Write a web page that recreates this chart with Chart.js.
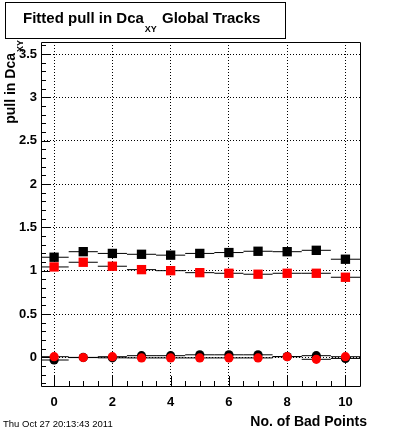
<!DOCTYPE html>
<html><head><meta charset="utf-8">
<script src="https://cdn.jsdelivr.net/npm/chart.js@4/dist/chart.umd.min.js"></script>
<style>html,body{margin:0;padding:0;background:#fff;}canvas{display:block;}</style>
</head><body>
<canvas id="c" width="400" height="433"></canvas>
<script>
// ---- data ----
const binCenters   = [0, 1, 2, 3, 4, 5, 6, 7, 8, 9, 10];
const blackSquares = [1.156, 1.22, 1.20, 1.19, 1.18, 1.20, 1.21, 1.225, 1.22, 1.236, 1.133];
const redSquares   = [1.044, 1.098, 1.052, 1.013, 1.001, 0.978, 0.971, 0.96, 0.971, 0.971, 0.925];
const blackCircles = [-0.03, 0.0, -0.005, 0.02, 0.02, 0.03, 0.03, 0.03, 0.01, 0.02, -0.012];
const redCircles   = [0.008, -0.002, 0.008, -0.006, -0.006, -0.006, -0.006, -0.006, 0.008, -0.022, 0.008];
const binWidth = 1;
const xTickLabels = [0, 2, 4, 6, 8, 10];
const yTickLabels = [0, 0.5, 1, 1.5, 2, 2.5, 3, 3.5];
const titleMain = "Fitted pull in Dca", titleSub = "XY", titleRest = "Global Tracks";
const yTitleMain = "pull in Dca", yTitleSub = "XY";
const xTitle = "No. of Bad Points";
const dateText = "Thu Oct 27 20:13:43 2011";

const FONT = "'Liberation Sans', Arial, Helvetica, sans-serif";

function pts(vals) { return binCenters.map((x, i) => ({x: x, y: vals[i]})); }
function bars(vals) {
  const out = [];
  binCenters.forEach((x, i) => {
    out.push({x: x - binWidth / 2, y: vals[i]});
    out.push({x: x + binWidth / 2, y: vals[i]});
    out.push({x: x + binWidth / 2, y: null});
  });
  return out;
}
function barDs(vals, order) {
  return {data: bars(vals), showLine: true, spanGaps: false, borderColor: '#000', borderWidth: 1,
          pointRadius: 0, pointHoverRadius: 0, order: order};
}
function markDs(vals, color, style, r, order) {
  return {data: pts(vals), showLine: false, pointStyle: style, pointRadius: r, pointHoverRadius: r,
          backgroundColor: color, borderColor: color, borderWidth: 0, order: order};
}

const framePlugin = {
  id: 'frame',
  beforeDatasetsDraw(chart) {
    const ctx = chart.ctx, a = chart.chartArea;
    const xs = chart.scales.x, ys = chart.scales.y;
    ctx.save();
    ctx.strokeStyle = '#000';
    ctx.lineWidth = 1;
    ctx.beginPath();
    ctx.rect(Math.round(a.left) + 0.5, Math.round(a.top) + 0.5,
             Math.round(a.right - a.left), Math.round(a.bottom - a.top));
    ctx.stroke();
    // y ticks (inward)
    ctx.beginPath();
    for (let k = -3; k <= 36; k++) {
      const v = k / 10;
      const py = Math.round(ys.getPixelForValue(v)) + 0.5;
      if (py < a.top || py > a.bottom) continue;
      const len = (k % 5 === 0) ? 9 : 5;
      ctx.moveTo(a.left, py); ctx.lineTo(a.left + len, py);
    }
    // x ticks (inward)
    for (let k = 0; k <= 21; k++) {
      const v = k / 2;
      const px = Math.round(xs.getPixelForValue(v)) + 0.5;
      if (px < a.left || px > a.right) continue;
      const len = (k % 4 === 0) ? 10 : 5;
      ctx.moveTo(px, a.bottom); ctx.lineTo(px, a.bottom - len);
    }
    ctx.stroke();
    ctx.restore();
  },
  afterDraw(chart) {
    const ctx = chart.ctx;
    ctx.save();
    ctx.fillStyle = '#000';
    ctx.textBaseline = 'alphabetic';
    // title box
    ctx.strokeStyle = '#000'; ctx.lineWidth = 1;
    ctx.strokeRect(5.5, 2.5, 280, 36);
    ctx.font = 'bold 15px ' + FONT;
    ctx.textAlign = 'left';
    ctx.fillText(titleMain, 23, 23);
    let w = ctx.measureText(titleMain).width;
    ctx.font = 'bold 9px ' + FONT;
    ctx.fillText(titleSub, 23 + w + 1, 32);
    ctx.font = 'bold 15px ' + FONT;
    ctx.fillText(titleRest, 162, 23);
    // x title
    ctx.font = 'bold 14px ' + FONT;
    ctx.textAlign = 'right';
    ctx.fillText(xTitle, 367, 426);
    // y title (rotated)
    ctx.save();
    ctx.translate(15, 0);
    ctx.rotate(-Math.PI / 2);
    ctx.font = 'bold 9px ' + FONT;
    const sw = ctx.measureText(yTitleSub).width;
    ctx.textAlign = 'right';
    ctx.fillText(yTitleSub, -40, 8);
    ctx.font = 'bold 14px ' + FONT;
    ctx.fillText(yTitleMain, -40 - sw - 1, 0);
    ctx.restore();
    // date
    ctx.font = '9.5px ' + FONT;
    ctx.textAlign = 'left';
    ctx.fillText(dateText, 3, 427);
    ctx.restore();
  }
};

new Chart(document.getElementById('c'), {
  type: 'scatter',
  data: {
    datasets: [
      barDs(blackSquares, 8),
      markDs(blackSquares, '#000', 'rect', 6.6, 7),
      barDs(blackCircles, 6),
      markDs(blackCircles, '#000', 'circle', 4.6, 5),
      barDs(redSquares, 4),
      markDs(redSquares, '#ff0000', 'rect', 6.6, 3),
      barDs(redCircles, 2),
      markDs(redCircles, '#ff0000', 'circle', 4.6, 1)
    ]
  },
  options: {
    responsive: false,
    animation: false,
    events: [],
    layout: {padding: {left: 0, top: 42, right: 40, bottom: 0}},
    plugins: {legend: {display: false}, tooltip: {enabled: false}, title: {display: false}},
    scales: {
      x: {
        type: 'linear', min: -0.45, max: 10.5,
        afterFit(s) { s.height = 47; },
        afterBuildTicks(s) { s.ticks = xTickLabels.map(v => ({value: v})); },
        grid: {color: '#000', lineWidth: 1, drawTicks: false},
        border: {display: false, dash: [1, 2]},
        ticks: {padding: 9, color: '#000', font: {family: FONT, size: 13, weight: 'bold'},
                maxRotation: 0, callback: v => String(v)}
      },
      y: {
        type: 'linear', min: -0.33, max: 3.64,
        afterFit(s) { s.width = 41; },
        afterBuildTicks(s) { s.ticks = yTickLabels.map(v => ({value: v})); },
        grid: {color: '#000', lineWidth: 1, drawTicks: false},
        border: {display: false, dash: [1, 2]},
        ticks: {padding: 4, color: '#000', font: {family: FONT, size: 13, weight: 'bold'},
                callback: v => String(v)}
      }
    }
  },
  plugins: [framePlugin]
});
</script>
</body></html>
